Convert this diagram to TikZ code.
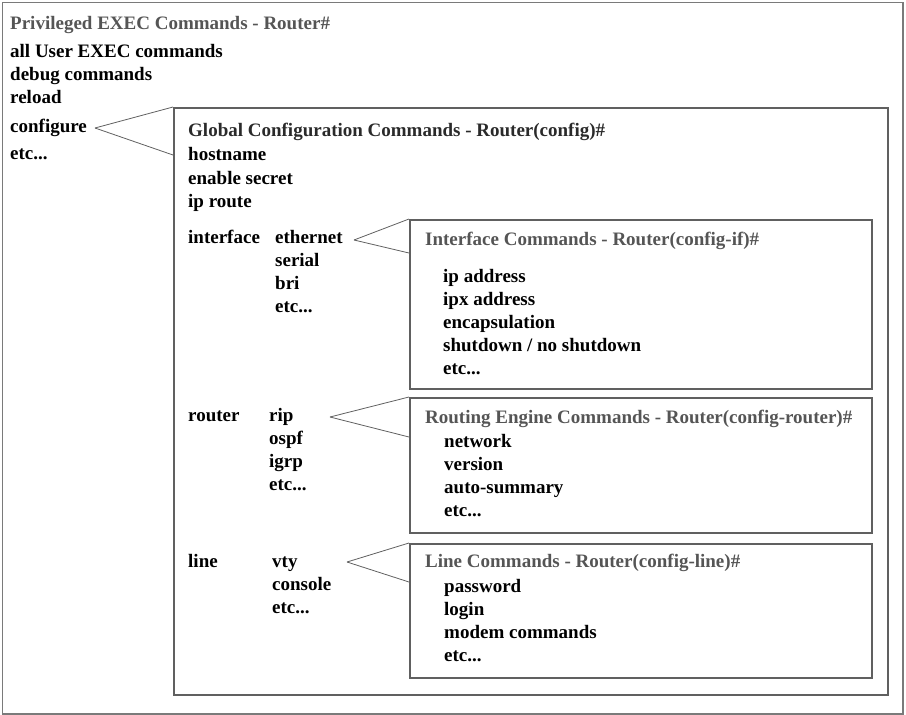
\documentclass[tikz,border=0pt]{standalone}
\usepackage{fontspec}
\setmainfont{Liberation Serif}
\usetikzlibrary{calc}
\definecolor{hdrgray}{HTML}{555555}
\definecolor{hdrdark}{HTML}{2A2A2A}
\definecolor{boxgray}{HTML}{606060}
\definecolor{outergray}{HTML}{7A7A7A}
\tikzset{
  txt/.style={anchor=base west, inner sep=0pt, font=\fontsize{19}{23}\selectfont\bfseries, text=black},
  hdr/.style={txt, text=hdrgray},
  ghdr/.style={txt, text=hdrdark},
  cbox/.style={draw=boxgray, line width=1.5pt, anchor=north west, inner sep=0pt, fill=none},
  callout/.style={draw=boxgray, line width=0.8pt},
}
\begin{document}
\begin{tikzpicture}[x=1pt,y=-1pt]
\useasboundingbox (0,0) rectangle (906,715);
% outer box
\node[draw=outergray, line width=1.5pt, anchor=north west, inner sep=0pt, minimum width=900.5pt, minimum height=711.5pt] (outer) at (1.5,1.5) {};
% privileged level
\node[hdr] (privh) at (10,29) {Privileged EXEC Commands - Router\#};
\node[txt] (p1) at (10,57) {all User EXEC commands};
\node[txt] (p2) at (10,80) {debug commands};
\node[txt] (p3) at (10,103) {reload};
\node[txt] (p4) at (10,132) {configure};
\node[txt] (p5) at (10,159) {etc...};
% global box
\node[cbox, minimum width=714pt, minimum height=587pt] (gbox) at (173,107) {};
\coordinate (cfgtip) at (95,128);
\draw[callout] (cfgtip) -- (gbox.north west);
\draw[callout] (cfgtip) -- ($(gbox.north west)+(0,48)$);
\node[ghdr] (gh) at (188,136) {Global Configuration Commands - Router(config)\#};
\node[txt] (g1) at (188,160) {hostname};
\node[txt] (g2) at (188,184) {enable secret};
\node[txt] (g3) at (188,207) {ip route};
% interface
\node[txt] (ifk) at (188,243) {interface};
\node[txt] (if1) at (275,243) {ethernet};
\node[txt] (if2) at (275,266) {serial};
\node[txt] (if3) at (275,289) {bri};
\node[txt] (if4) at (275,312) {etc...};
\node[cbox, minimum width=462pt, minimum height=169pt] (ifbox) at (409,219) {};
\coordinate (iftip) at (354,240);
\draw[callout] (iftip) -- (ifbox.north west);
\draw[callout] (iftip) -- ($(ifbox.north west)+(0,34)$);
\node[hdr] (ifh) at (425,245) {Interface Commands - Router(config-if)\#};
\node[txt] (ic1) at (443,282) {ip address};
\node[txt] (ic2) at (443,305) {ipx address};
\node[txt] (ic3) at (443,328) {encapsulation};
\node[txt] (ic4) at (443,351) {shutdown / no shutdown};
\node[txt] (ic5) at (443,374) {etc...};
% router
\node[txt] (rtk) at (188,421) {router};
\node[txt] (rt1) at (269,421) {rip};
\node[txt] (rt2) at (269,444) {ospf};
\node[txt] (rt3) at (269,467) {igrp};
\node[txt] (rt4) at (269,490) {etc...};
\node[cbox, minimum width=462pt, minimum height=135pt] (rtbox) at (409,397) {};
\coordinate (rttip) at (330,417);
\draw[callout] (rttip) -- (rtbox.north west);
\draw[callout] (rttip) -- ($(rtbox.north west)+(0,40)$);
\node[hdr] (rth) at (425,423) {Routing Engine Commands - Router(config-router)\#};
\node[txt] (rc1) at (444,447) {network};
\node[txt] (rc2) at (444,470) {version};
\node[txt] (rc3) at (444,493) {auto-summary};
\node[txt] (rc4) at (444,516) {etc...};
% line
\node[txt] (lnk) at (188,567) {line};
\node[txt] (ln1) at (272,567) {vty};
\node[txt] (ln2) at (272,590) {console};
\node[txt] (ln3) at (272,613) {etc...};
\node[cbox, minimum width=462pt, minimum height=134pt] (lnbox) at (409,543) {};
\coordinate (lntip) at (347,562);
\draw[callout] (lntip) -- (lnbox.north west);
\draw[callout] (lntip) -- ($(lnbox.north west)+(0,39)$);
\node[hdr] (lnh) at (425,567) {Line Commands - Router(config-line)\#};
\node[txt] (lc1) at (444,592) {password};
\node[txt] (lc2) at (444,615) {login};
\node[txt] (lc3) at (444,638) {modem commands};
\node[txt] (lc4) at (444,661) {etc...};
\end{tikzpicture}
\end{document}
